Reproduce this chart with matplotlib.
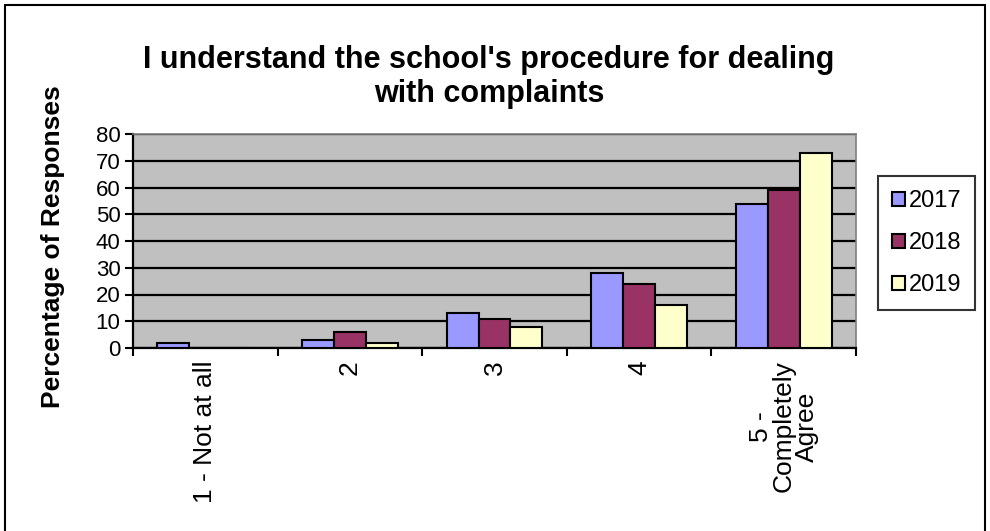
import matplotlib
matplotlib.use("Agg")
import matplotlib.pyplot as plt
import numpy as np
from matplotlib.patches import Rectangle

categories = ["1 - Not at all", "2", "3", "4", "5 -\nCompletely\nAgree"]
series_names = ["2017", "2018", "2019"]
v2017 = [2, 3, 13, 28, 54]
v2018 = [0, 6, 11, 24, 59]
v2019 = [0, 2, 8, 16, 73]
colors = ["#9999FF", "#993366", "#FFFFCC"]
yticks = [0, 10, 20, 30, 40, 50, 60, 70, 80]

plt.rcParams['font.family'] = ['Liberation Sans', 'DejaVu Sans']

fig = plt.figure(figsize=(9.9, 5.31), dpi=100)
ax = fig.add_axes([133/990, 1-348/531, (856-133)/990, (348-134)/531])
ax.set_facecolor("#C0C0C0")

x = np.arange(len(categories))
w = 0.221
for i, (vals, c, n) in enumerate(zip([v2017, v2018, v2019], colors, series_names)):
    ax.bar(x + (i-1)*w, vals, width=w, color=c, edgecolor="black", linewidth=1.5, label=n, zorder=3)

ax.set_xlim(-0.5, len(categories)-0.5)
ax.set_ylim(0, 80)
ax.set_yticks(yticks)
ax.set_yticklabels([str(t) for t in yticks], fontsize=16)
ax.yaxis.grid(True, color="black", linewidth=1.6, zorder=1)
ax.set_axisbelow(True)

ax.set_xticks(np.arange(-0.5, len(categories), 1.0))
ax.set_xticklabels([])
ax.set_xticks(x, minor=True)
ax.set_xticklabels(categories, minor=True, rotation=90, fontsize=19, va="top", ha="center",
                   multialignment="center", linespacing=0.95)
ax.tick_params(axis="x", which="minor", length=0, pad=9)
ax.tick_params(axis="x", which="major", length=6, width=1.5, direction="out")
ax.tick_params(axis="y", length=6, width=1.5, direction="out", pad=3)

for s in ["left", "bottom"]:
    ax.spines[s].set_color("black")
    ax.spines[s].set_linewidth(1.6)
for s in ["top", "right"]:
    ax.spines[s].set_color("#808080")
    ax.spines[s].set_linewidth(1.2)

fig.text(53/990, 1-247/531, "Percentage of Responses", rotation=90, ha="center", va="center",
         fontsize=19, fontweight="bold")

fig.text(489/990, 1-77/531, "I understand the school's procedure for dealing\nwith complaints",
         ha="center", va="center", fontsize=22, fontweight="bold", linespacing=1.2)

leg = fig.legend(loc="upper left", bbox_to_anchor=(878/990, 1-176/531), fontsize=17,
                 frameon=True, fancybox=False, edgecolor="black", handlelength=0.55, handleheight=0.55,
                 handletextpad=0.15, labelspacing=0.85, borderpad=0.6, borderaxespad=0)
leg.get_frame().set_linewidth(1.5)

fig.patches.append(Rectangle((5/990, -0.01), 980/990, 1-5/531+0.01, transform=fig.transFigure,
                             fill=False, edgecolor="black", linewidth=1.5))

fig.savefig("out.png", dpi=100)
